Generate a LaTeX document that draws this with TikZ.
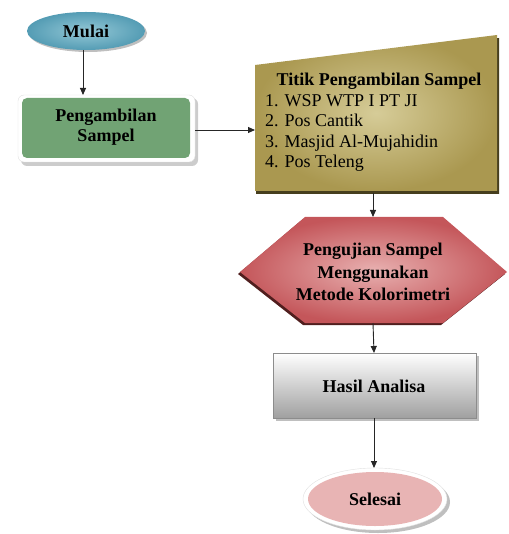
\documentclass[tikz,border=0pt]{standalone}
\usepackage{fontspec}
\setmainfont{Liberation Serif}
\usetikzlibrary{arrows.meta,shapes.geometric}
\definecolor{tealA}{RGB}{148,200,214}
\definecolor{tealB}{RGB}{84,156,180}
\definecolor{greenA}{RGB}{113,163,116}
\definecolor{oliveA}{RGB}{214,204,152}
\definecolor{oliveB}{RGB}{170,152,80}
\definecolor{oliveD}{RGB}{70,62,30}
\definecolor{redA}{RGB}{232,176,176}
\definecolor{redB}{RGB}{196,86,90}
\definecolor{redD}{RGB}{80,30,30}
\definecolor{pinkA}{RGB}{232,180,180}
\definecolor{grayB}{RGB}{160,160,160}
\tikzset{
  conn/.style={draw=black!85, line width=0.9pt, -{Triangle[length=7pt,width=6pt]}},
  lbl/.style={font=\fontsize{18}{20.5}\selectfont\bfseries, align=center, inner sep=0pt},
  lst/.style={font=\fontsize{18}{20.5}\selectfont, align=left, inner sep=0pt, anchor=north west},
}
\begin{document}
\begin{tikzpicture}[x=1pt,y=-1pt]
\useasboundingbox (0,0) rectangle (508,534);
% Mulai
\path[fill=black!25] (88,33) ellipse [x radius=59, y radius=19];
\path[inner color=tealA, outer color=tealB] (86,31) ellipse [x radius=59, y radius=19];
\node[lbl] (mulai) at (86,31) {Mulai};
\coordinate (mulaiS) at (83,50);
% Pengambilan
\path[fill=black!20, rounded corners=6pt] (21,98) rectangle (198,166);
\path[fill=white, draw=black!12, rounded corners=6pt] (18,95) rectangle (195,162);
\path[fill=greenA, rounded corners=5pt] (22,98) rectangle (190,158);
\node[lbl] (ambil) at (106,127) {Pengambilan\\Sampel};
\coordinate (ambilN) at (83,95);
\coordinate (ambilE) at (195,130);
% Manual input
\path[fill=oliveD] (256,68) -- (499,38) -- (499,194) -- (256,194) -- cycle;
\path[inner color=oliveA, outer color=oliveB] (255,65) -- (497,35) -- (497,191) -- (255,191) -- cycle;
\coordinate (titikW) at (255,130);
\coordinate (titikS) at (373,193);
\node[lbl] (titik) at (379,81) {Titik Pengambilan Sampel};
\node[lst] (list) at (265,94) {1. WSP WTP I PT JI\\2. Pos Cantik\\3. Masjid Al-Mujahidin\\4. Pos Teleng};
% Hexagon
\path[fill=redD] (238,274) -- (303,219) -- (441,219) -- (505,274) -- (441,325) -- (303,325) -- cycle;
\path[inner color=redA, outer color=redB] (240,272) -- (305,217) -- (443,217) -- (507,272) -- (443,323) -- (305,323) -- cycle;
\node[lbl, font=\fontsize{18}{22.5}\selectfont\bfseries] (uji) at (373,272) {Pengujian Sampel\\Menggunakan\\Metode Kolorimetri};
\coordinate (ujiN) at (373,217);
\coordinate (ujiS) at (373,323);
% Hasil
\path[fill=black!25] (276,356) rectangle (479,421);
\path[top color=white, bottom color=grayB, draw=black!45, line width=0.6pt] (273,353) rectangle (476,418);
\node[lbl] (hasil) at (374,386) {Hasil Analisa};
\coordinate (hasilN) at (374,353);
\coordinate (hasilS) at (374,418);
% Selesai
\path[fill=black!25] (378,502) ellipse [x radius=72, y radius=31];
\path[fill=white, draw=black!12] (375,499) ellipse [x radius=72, y radius=31];
\path[fill=pinkA] (375,499) ellipse [x radius=67, y radius=27];
\node[lbl] (selesai) at (375,499) {Selesai};
\coordinate (selesaiN) at (374,468);
% connectors
\draw[conn] (mulaiS) -- (ambilN);
\draw[conn] (ambilE) -- (titikW);
\draw[conn] (titikS) -- (ujiN);
\draw[conn] (ujiS) -- (hasilN);
\draw[conn] (hasilS) -- (selesaiN);
\end{tikzpicture}
\end{document}
